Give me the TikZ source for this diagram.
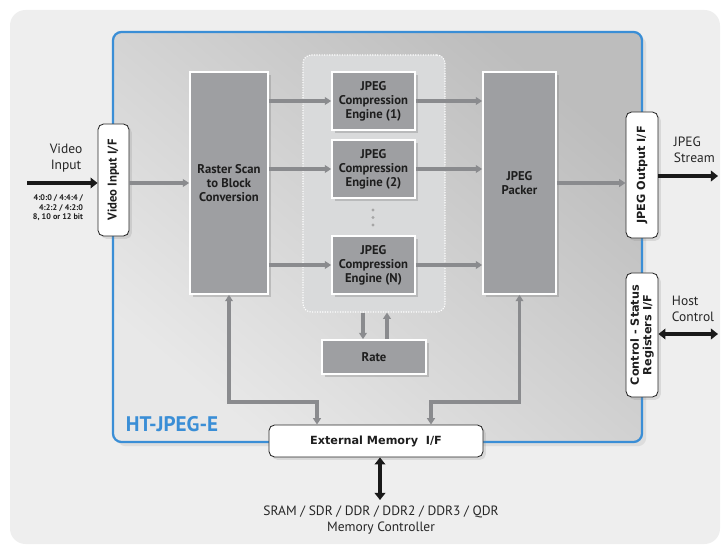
\documentclass[tikz,border=0pt]{standalone}
\usepackage{fontspec}
\setmainfont{PT Sans}
\newfontfamily\vfont{DejaVu Sans}
\usepackage{tikz}
\usetikzlibrary{arrows.meta,shadows}

\definecolor{bgpage}{HTML}{EEEEEE}
\definecolor{chipblue}{HTML}{3A8ED6}
\definecolor{blockgray}{HTML}{9E9FA2}
\definecolor{arrowgray}{HTML}{8A8B8E}
\definecolor{groupgray}{HTML}{D9DADB}
\definecolor{txtdark}{HTML}{1E1E1E}

\begin{document}
\begin{tikzpicture}[x=0.025cm, y=-0.025cm,
    every node/.style={font=\fontsize{9}{10}\selectfont\bfseries, text=txtdark},
    blk/.style={draw=white, line width=1.2pt, fill=blockgray, align=center, inner sep=1pt,
        drop shadow={shadow xshift=2pt, shadow yshift=-2pt, opacity=0.35}},
    ifbox/.style={draw=black!85, line width=0.6pt, fill=white, rounded corners=4pt, align=center,
        inner sep=1pt, drop shadow={shadow xshift=2pt, shadow yshift=-2pt, opacity=0.2}},
    iftext/.style={font=\vfont\fontsize{8}{8.8}\selectfont\bfseries},
    garrow/.style={draw=arrowgray, line width=2.6pt, -{Triangle[length=4.5pt, width=5.5pt]}},
    gboth/.style={draw=arrowgray, line width=2.6pt, {Triangle[length=4.5pt, width=5.5pt]}-{Triangle[length=4.5pt, width=5.5pt]}},
    karrow/.style={draw=black!90, line width=3pt, -{Triangle[length=5pt, width=7.5pt]}},
    kboth/.style={draw=black!90, line width=3pt, {Triangle[length=5pt, width=7.5pt]}-{Triangle[length=5pt, width=7.5pt]}},
    plain/.style={font=\fontsize{9.6}{11}\selectfont, text=black!85}]
    \useasboundingbox (0,0) rectangle (726,545);

    % page and chip outline
    \fill[bgpage, rounded corners=11pt] (10,10) rectangle (720,544);
    \shade[top color=gray!52, bottom color=gray!18, shading angle=-40, draw=chipblue, line width=1.6pt,
        rounded corners=6pt, drop shadow={shadow xshift=3pt, shadow yshift=-3pt, opacity=0.15}]
        (113,32) rectangle (642,442);
    \node[font=\fontsize{15}{17}\selectfont\bfseries, text=chipblue, anchor=west] (chip) at (121,424) {HT-JPEG-E};

    % engine group
    \node[draw=white, densely dotted, line width=0.8pt, fill=groupgray, rounded corners=6pt,
        minimum width=3.55cm, minimum height=6.425cm] (engs) at (374,183.5) {};

    % processing blocks
    \node[blk, minimum width=1.95cm, minimum height=5.55cm] (raster) at (229,183) {Raster Scan\\to Block\\Conversion};
    \node[blk, minimum width=2.075cm, minimum height=1.45cm] (eng1) at (373.5,101) {JPEG\\Compression\\Engine (1)};
    \node[blk, minimum width=2.075cm, minimum height=1.45cm] (eng2) at (373.5,169) {JPEG\\Compression\\Engine (2)};
    \node[blk, minimum width=2.075cm, minimum height=1.45cm] (engn) at (373.5,265) {JPEG\\Compression\\Engine (N)};
    \node[blk, minimum width=1.825cm, minimum height=5.55cm] (packer) at (519.5,183) {JPEG\\Packer};
    \node[blk, minimum width=2.6cm, minimum height=0.85cm] (rate) at (374,357) {Rate};
    \foreach \y in {210,217.5,225}
        \fill[gray!70] (373,\y) circle (1.7);

    % interfaces
    \node[ifbox, rotate=90, minimum width=2.8cm, minimum height=0.775cm] (vif) at (113.5,180) {Video Input I/F};
    \node[ifbox, iftext, rotate=90, minimum width=3.15cm, minimum height=0.8cm] (jpout) at (642,175) {JPEG Output I/F};
    \node[ifbox, iftext, rotate=90, minimum width=3.1cm, minimum height=0.8cm] (ctrl) at (642,335) {Control - Status\\Registers I/F};
    \node[ifbox, iftext, minimum width=5.35cm, minimum height=0.8cm] (extmem) at (376,441) {External Memory~~I/F};

    % outside labels
    \node[plain, align=center] (vinlbl) at (66,158) {Video\\Input};
    \node[font=\fontsize{5.8}{6.8}\selectfont\bfseries, align=right, anchor=north east] (fmt) at (88,190) {4:0:0 / 4:4:4 /\\4:2:2 / 4:2:0\\8, 10 or 12 bit};
    \node[plain, align=left, anchor=west] (jslbl) at (669,150) {JPEG\\Stream};
    \node[plain, align=left, anchor=west] (hclbl) at (667,309) {Host\\Control};
    \node[plain, align=center] (memlbl) at (381,520) {SRAM / SDR / DDR / DDR2 / DDR3 / QDR\\Memory Controller};

    \coordinate (vin) at (27,183);
    \coordinate (jout) at (718,176);
    \coordinate (hout) at (718,334);
    \coordinate (mc) at (380,500);
    \coordinate (ml) at (317,402);
    \coordinate (mr) at (431,402);

    % data path
    \draw[karrow] (vin) -- (vin -| vif.north);
    \draw[garrow] (vif.south |- raster.west) -- (raster.west);
    \foreach \e in {eng1,eng2,engn} {
        \draw[garrow] (raster.east |- \e.west) -- (\e.west);
        \draw[garrow] (\e.east) -- (packer.west |- \e.east);
    }
    \draw[garrow] (packer.east) -- (packer.east -| jpout.north);
    \draw[karrow] (jout -| jpout.south) -- (jout);
    \draw[kboth] (hout -| ctrl.south) -- (hout);

    % rate loop
    \draw[garrow] (363,0 |- engs.south) -- (363,0 |- rate.north);
    \draw[garrow] (387,0 |- rate.north) -- (387,0 |- engs.south);

    % memory paths
    \draw[gboth] (raster.south) |- (ml) -- (ml |- extmem.north);
    \draw[gboth] (packer.south) |- (mr) -- (mr |- extmem.north);
    \draw[kboth] (mc |- extmem.south) -- (mc);
\end{tikzpicture}
\end{document}
